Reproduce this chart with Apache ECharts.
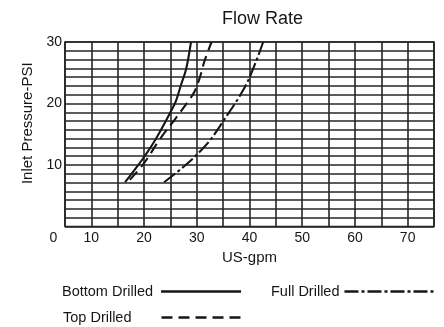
<!DOCTYPE html>
<html>
<head>
<meta charset="utf-8">
<script src="https://cdn.jsdelivr.net/npm/echarts@6/dist/echarts.min.js"></script>
<style>
  html, body { margin: 0; padding: 0; background: #fff; }
  #chart { width: 444px; height: 327px; }
</style>
</head>
<body>
<div id="chart"></div>
<script>
// Tick labels
const flowTicks = [0, 10, 20, 30, 40, 50, 60, 70];   // US-gpm (0 sits at the corner)
const pressureTicks = [10, 20, 30];                   // Inlet pressure, PSI

// Curves: flow (US-gpm) against inlet pressure (PSI)
const bottomGpm = [16.4, 18.2, 20.0, 22.2, 24.4, 25.0, 26.0, 27.0, 28.0, 28.9];
const bottomPsi = [7.2, 9.2, 11.3, 14.2, 17.6, 18.6, 20.3, 23.0, 25.7, 30.0];

const topGpm = [17.3, 20.0, 23.0, 26.0, 28.5, 29.6, 30.6, 31.5, 32.8];
const topPsi = [7.6, 10.3, 14.2, 17.6, 20.5, 22.0, 24.3, 27.0, 30.0];

const fullGpm = [23.8, 26.2, 28.7, 30.6, 32.5, 35.3, 38.2, 40.1, 42.6];
const fullPsi = [7.2, 8.8, 10.6, 12.2, 14.0, 17.5, 21.3, 24.4, 30.0];

const seriesNames = ['Bottom Drilled', 'Top Drilled', 'Full Drilled'];

const FONT = "'Liberation Sans', Arial, sans-serif";
const INK = '#161616';
const GRID_LINE = { color: '#262626', width: 1.6 };

const pairs = (xs, ys) => xs.map((x, i) => [x, ys[i]]);

const chart = echarts.init(document.getElementById('chart'), null, { renderer: 'canvas' });

// One legend block per entry: label on the left, line sample on the right;
// extra right padding on the label lines the samples up in a column
function legendFor(name, opts, labelPad) {
  return Object.assign({
    data: [name],
    align: 'right',
    orient: 'horizontal',
    padding: 0,
    itemHeight: 14,
    selectedMode: false,
    itemStyle: { opacity: 0 },
    lineStyle: { width: 2.6 },
    formatter: n => '{t|' + n + '}',
    textStyle: {
      fontFamily: FONT, fontSize: 14.5, color: INK,
      rich: { t: { fontFamily: FONT, fontSize: 14.5, color: INK, padding: [0, labelPad, 0, 0] } }
    }
  }, opts);
}

chart.setOption({
  animation: false,
  backgroundColor: '#fff',
  title: {
    text: 'Flow Rate',
    left: 222,
    top: 10,
    padding: 0,
    textStyle: { fontFamily: FONT, fontSize: 18, fontWeight: 'normal', color: INK }
  },
  grid: {
    left: 65, right: 10, top: 42, bottom: 100.5,
    show: true, borderColor: '#262626', borderWidth: 1.6, containLabel: false
  },
  xAxis: {
    type: 'value',
    min: 5, max: 75, interval: 5,
    name: 'US-gpm',
    nameLocation: 'middle',
    nameGap: 24,
    nameTextStyle: { fontFamily: FONT, fontSize: 15, color: INK },
    axisLine: { show: false },
    axisTick: { show: false },
    splitLine: { show: true, lineStyle: GRID_LINE },
    axisLabel: {
      margin: 5,
      showMinLabel: true,
      showMaxLabel: true,
      fontFamily: FONT, fontSize: 14, color: INK,
      formatter: v => {
        if (v === 5) return '{o|' + flowTicks[0] + '}';
        return flowTicks.indexOf(v) > 0 ? String(v) : '';
      },
      rich: { o: { fontFamily: FONT, fontSize: 14, color: INK, padding: [0, 23, 0, 0] } }
    }
  },
  yAxis: {
    type: 'value',
    min: 0, max: 30, interval: 10,
    name: 'Inlet Pressure-PSI',
    nameLocation: 'middle',
    nameGap: 27,
    nameRotate: 90,
    nameTextStyle: { fontFamily: FONT, fontSize: 15, color: INK, padding: [0, 0, 0, 22] },
    axisLine: { show: false },
    axisTick: { show: false },
    minorTick: { show: false, splitNumber: 7 },
    splitLine: { show: true, lineStyle: GRID_LINE },
    minorSplitLine: { show: true, lineStyle: GRID_LINE },
    axisLabel: {
      margin: 3,
      fontFamily: FONT, fontSize: 14, color: INK,
      formatter: v => (pressureTicks.indexOf(v) >= 0 ? String(v) : '')
    }
  },
  legend: [
    legendFor(seriesNames[0], { left: 62, top: 284, itemWidth: 80 }, 3),
    legendFor(seriesNames[1], { left: 63, top: 310, itemWidth: 80 }, 25),
    legendFor(seriesNames[2], { left: 271, top: 284, itemWidth: 90 }, 0)
  ],
  series: [
    {
      name: seriesNames[0], type: 'line', smooth: 0.35, symbol: 'none',
      itemStyle: { color: INK },
      lineStyle: { color: INK, width: 2.1, type: 'solid' },
      data: pairs(bottomGpm, bottomPsi)
    },
    {
      name: seriesNames[1], type: 'line', smooth: 0.35, symbol: 'none',
      itemStyle: { color: INK },
      lineStyle: { color: INK, width: 2.1, type: [11, 6] },
      data: pairs(topGpm, topPsi)
    },
    {
      name: seriesNames[2], type: 'line', smooth: 0.35, symbol: 'none',
      itemStyle: { color: INK },
      lineStyle: { color: INK, width: 2.1, type: [14, 3, 3, 3] },
      data: pairs(fullGpm, fullPsi)
    }
  ]
});
</script>
</body>
</html>
